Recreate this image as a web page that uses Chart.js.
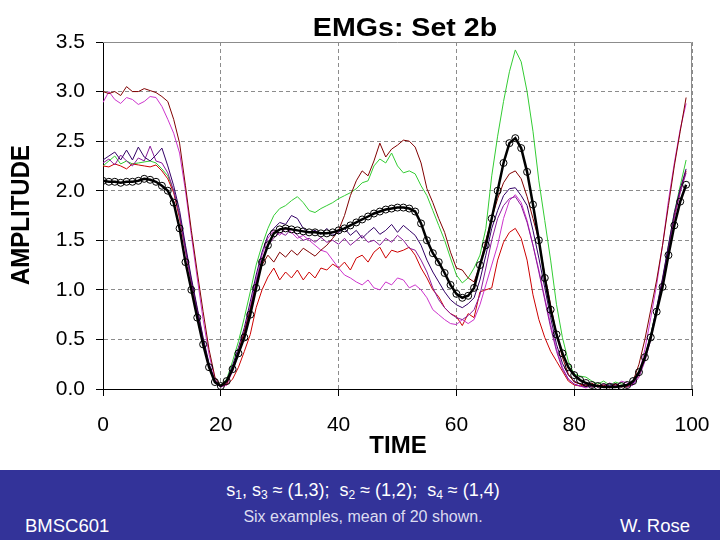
<!DOCTYPE html>
<html>
<head>
<meta charset="utf-8">
<script src="https://cdn.jsdelivr.net/npm/chart.js@4.4.0/dist/chart.umd.min.js"></script>
<style>
html,body{margin:0;padding:0;background:#fff;}
#wrap{position:relative;width:720px;height:540px;overflow:hidden;background:#fff;}
#c{position:absolute;left:0;top:0;}
#band{position:absolute;left:0;top:470px;width:720px;height:70px;background:#333399;color:#fff;font-family:Arial,"Liberation Sans",sans-serif;}
#band div{position:absolute;white-space:nowrap;}
#l1{left:0;width:726px;top:9px;text-align:center;font-size:18px;line-height:22px;}
#l1 sub{font-size:12px;vertical-align:-3px;}
#l2{left:0;width:726px;top:38px;text-align:center;font-size:16px;line-height:18px;color:#dcdcf0;}
#l3{left:25px;top:45px;font-size:18.5px;line-height:22px;}
#l4{right:30px;top:45px;font-size:18.5px;line-height:22px;}
</style>
</head>
<body>
<div id="wrap">
  <canvas id="c" width="720" height="470"></canvas>
  <div id="band">
    <div id="l1">s<sub>1</sub>, s<sub>3</sub> ≈ (1,3);&nbsp; s<sub>2</sub> ≈ (1,2);&nbsp; s<sub>4</sub> ≈ (1,4)</div>
    <div id="l2">Six examples, mean of 20 shown.</div>
    <div id="l3">BMSC601</div>
    <div id="l4">W. Rose</div>
  </div>
</div>
<script>
// time axis (0..99)
const times = [0,1,2,3,4,5,6,7,8,9,10,11,12,13,14,15,16,17,18,19,
  20,21,22,23,24,25,26,27,28,29,30,31,32,33,34,35,36,37,38,39,
  40,41,42,43,44,45,46,47,48,49,50,51,52,53,54,55,56,57,58,59,
  60,61,62,63,64,65,66,67,68,69,70,71,72,73,74,75,76,77,78,79,
  80,81,82,83,84,85,86,87,88,89,90,91,92,93,94,95,96,97,98,99];

// mean of 20
const meanEmg = [2.10,2.09,2.09,2.08,2.09,2.09,2.10,2.12,2.11,2.09,
  2.05,2.00,1.88,1.62,1.28,1.00,0.72,0.45,0.22,0.07,
  0.03,0.08,0.20,0.36,0.52,0.75,1.02,1.28,1.45,1.57,
  1.61,1.62,1.61,1.60,1.59,1.58,1.58,1.57,1.57,1.58,
  1.60,1.62,1.65,1.68,1.71,1.74,1.77,1.79,1.81,1.82,
  1.83,1.83,1.82,1.79,1.67,1.50,1.37,1.28,1.17,1.05,
  0.96,0.92,0.94,1.02,1.25,1.45,1.72,2.00,2.28,2.48,
  2.53,2.43,2.19,1.86,1.50,1.12,0.80,0.55,0.36,0.22,
  0.14,0.09,0.06,0.04,0.03,0.02,0.02,0.02,0.03,0.04,
  0.08,0.17,0.32,0.52,0.78,1.03,1.35,1.65,1.89,2.06];

// six examples
const green = [2.25,2.30,2.35,2.27,2.30,2.27,2.28,2.29,2.30,2.28,
  2.22,2.15,2.00,1.75,1.42,1.10,0.80,0.50,0.25,0.08,
  0.04,0.10,0.28,0.48,0.72,0.98,1.25,1.45,1.62,1.75,
  1.82,1.85,1.90,1.94,1.88,1.80,1.78,1.82,1.85,1.88,
  1.92,1.95,1.98,2.02,2.08,2.10,2.25,2.32,2.28,2.38,
  2.25,2.18,2.20,2.17,2.05,1.95,1.80,1.65,1.50,1.32,
  1.15,1.07,1.12,1.22,1.35,1.62,2.15,2.55,2.90,3.20,
  3.42,3.30,3.00,2.60,2.10,1.70,1.30,0.85,0.52,0.28,
  0.15,0.13,0.12,0.08,0.05,0.08,0.04,0.07,0.05,0.04,
  0.06,0.15,0.32,0.55,0.82,1.10,1.45,1.78,2.05,2.31];

const maroon = [3.00,2.98,3.00,2.96,3.05,3.00,3.00,3.03,3.01,2.99,
  2.95,2.90,2.72,2.48,2.05,1.60,1.18,0.78,0.40,0.12,
  0.03,0.05,0.20,0.38,0.58,0.80,1.05,1.25,1.35,1.28,
  1.38,1.33,1.40,1.35,1.42,1.38,1.34,1.40,1.45,1.52,
  1.60,1.75,1.95,2.10,2.20,2.15,2.30,2.48,2.34,2.42,
  2.46,2.51,2.50,2.44,2.28,2.02,1.88,1.72,1.58,1.38,
  1.22,1.20,1.12,1.08,1.25,1.50,1.72,1.92,2.08,2.17,
  2.20,2.12,1.94,1.72,1.50,1.15,0.85,0.55,0.32,0.15,
  0.07,0.05,0.03,0.06,0.02,0.04,0.01,0.05,0.02,0.03,
  0.08,0.25,0.50,0.80,1.10,1.45,1.85,2.25,2.60,2.94];

const magenta = [2.89,3.00,2.92,2.88,2.94,2.92,2.87,2.90,2.95,2.94,
  2.85,2.72,2.58,2.38,2.00,1.55,1.12,0.70,0.35,0.10,
  0.02,0.04,0.18,0.35,0.55,0.82,1.10,1.35,1.52,1.60,
  1.55,1.62,1.58,1.52,1.55,1.50,1.45,1.40,1.38,1.30,
  1.22,1.15,1.12,1.08,1.05,1.10,1.02,1.00,1.08,1.05,
  1.12,1.10,1.02,1.05,1.00,0.92,0.80,0.75,0.70,0.66,
  0.65,0.70,0.66,0.70,0.85,1.05,1.25,1.45,1.72,1.90,
  1.96,1.88,1.70,1.45,1.20,0.92,0.65,0.40,0.22,0.10,
  0.05,0.03,0.01,0.04,0.02,0.05,0.03,0.02,0.08,0.06,
  0.05,0.15,0.40,0.72,1.05,1.45,1.90,2.28,2.62,2.88];

const navy = [2.31,2.35,2.39,2.31,2.41,2.31,2.44,2.34,2.30,2.36,
  2.43,2.25,2.05,1.80,1.45,1.12,0.82,0.52,0.26,0.08,
  0.03,0.09,0.24,0.42,0.62,0.88,1.15,1.38,1.55,1.62,
  1.68,1.66,1.75,1.72,1.62,1.58,1.60,1.56,1.62,1.55,
  1.58,1.62,1.55,1.60,1.52,1.58,1.63,1.56,1.60,1.66,
  1.58,1.65,1.60,1.55,1.45,1.30,1.18,1.08,0.98,0.90,
  0.85,0.82,0.86,0.92,1.10,1.35,1.62,1.80,1.95,2.02,
  2.03,1.95,1.85,1.60,1.32,1.02,0.72,0.45,0.26,0.14,
  0.08,0.05,0.04,0.02,0.03,0.02,0.04,0.03,0.02,0.04,
  0.06,0.15,0.32,0.55,0.82,1.12,1.45,1.78,2.02,2.22];

const purple = [2.28,2.32,2.26,2.36,2.30,2.25,2.33,2.30,2.45,2.30,
  2.28,2.18,2.00,1.75,1.40,1.08,0.78,0.48,0.22,0.06,
  0.02,0.06,0.20,0.38,0.58,0.82,1.08,1.30,1.45,1.52,
  1.58,1.55,1.62,1.55,1.50,1.52,1.48,1.53,1.48,1.50,
  1.46,1.52,1.45,1.50,1.55,1.48,1.50,1.45,1.52,1.48,
  1.55,1.50,1.42,1.40,1.30,1.18,1.02,0.90,0.82,0.76,
  0.72,0.70,0.74,0.80,0.95,1.22,1.50,1.72,1.85,1.92,
  1.94,1.85,1.68,1.45,1.18,0.90,0.62,0.38,0.20,0.10,
  0.05,0.03,0.02,0.05,0.02,0.03,0.06,0.04,0.03,0.02,
  0.04,0.12,0.28,0.50,0.78,1.08,1.42,1.72,1.98,2.18];

const red = [2.25,2.24,2.27,2.25,2.22,2.27,2.26,2.25,2.24,2.26,
  2.20,2.12,1.98,1.72,1.40,1.08,0.80,0.50,0.22,0.07,
  0.03,0.04,0.10,0.22,0.38,0.55,0.82,1.00,1.13,1.22,
  1.10,1.18,1.12,1.20,1.10,1.18,1.12,1.22,1.20,1.26,
  1.22,1.28,1.20,1.32,1.35,1.28,1.38,1.43,1.32,1.40,
  1.38,1.40,1.43,1.35,1.22,1.12,1.00,0.93,0.82,0.76,
  0.73,0.64,0.76,0.72,0.98,1.00,1.02,1.30,1.48,1.58,
  1.62,1.52,1.30,0.95,0.70,0.52,0.38,0.28,0.18,0.08,
  0.04,0.03,0.05,0.02,0.04,0.03,0.02,0.05,0.03,0.02,
  0.06,0.14,0.30,0.52,0.80,1.10,1.42,1.75,2.00,2.20];

const yTicks = [0, 0.5, 1.0, 1.5, 2.0, 2.5, 3.0, 3.5];
const xTicks = [0, 20, 40, 60, 80, 100];

function pts(vals){ return vals.map((v,i)=>({x:times[i], y:v})); }
function thin(label, vals, color){
  return {label, data: pts(vals), borderColor: color, borderWidth: 1, pointRadius: 0, tension: 0, fill: false};
}

// titles and frame drawn by hand so the chart area stays where it is in the picture
const decor = {
  id: 'decor',
  beforeDatasetsDraw(chart){
    const {ctx, chartArea: a} = chart;
    ctx.save();
    ctx.strokeStyle = '#8c8c8c'; ctx.lineWidth = 1;
    ctx.beginPath();
    ctx.moveTo(a.left, a.top + 0.5); ctx.lineTo(a.right - 0.5, a.top + 0.5); ctx.lineTo(a.right - 0.5, a.bottom);
    ctx.stroke();
    ctx.restore();
  },
  afterDraw(chart){
    const ctx = chart.ctx;
    ctx.save();
    ctx.fillStyle = '#000';
    ctx.textAlign = 'center'; ctx.textBaseline = 'alphabetic';
    ctx.font = 'bold 26px Arial, "Liberation Sans", sans-serif';
    ctx.save(); ctx.translate(405, 36); ctx.scale(1.1, 1); ctx.fillText('EMGs: Set 2b', 0, 0); ctx.restore();
    ctx.font = 'bold 24px Arial, "Liberation Sans", sans-serif';
    ctx.fillText('TIME', 398, 453);
    ctx.save(); ctx.translate(22, 215); ctx.scale(1.1, 1); ctx.rotate(-Math.PI/2);
    ctx.textBaseline = 'middle'; ctx.fillText('AMPLITUDE', 0, 0); ctx.restore();
    ctx.restore();
  }
};

new Chart(document.getElementById('c'), {
  type: 'line',
  data: {
    datasets: [
      {label:'mean', data: pts(meanEmg), borderColor:'#000', borderWidth: 2.5, tension: 0,
       pointRadius: 3.5, pointBorderWidth: 1, pointBorderColor:'#000', pointBackgroundColor:'rgba(0,0,0,0)', fill:false},
      thin('maroon', maroon, '#800000'),
      thin('navy', navy, '#330066'),
      thin('purple', purple, '#8a1a9a'),
      thin('magenta', magenta, '#cc33cc'),
      thin('red', red, '#cc0000'),
      thin('green', green, '#33cc33')
    ]
  },
  options: {
    responsive: false,
    animation: false,
    layout: {padding: {left: 0, top: 42, right: 28, bottom: 0}},
    plugins: {legend: {display: false}, tooltip: {enabled: false}, title: {display: false}},
    scales: {
      x: {
        type: 'linear', min: 0, max: 100,
        afterFit(s){ s.height = 81; s.paddingLeft = 0; s.paddingRight = 0; },
        afterBuildTicks(s){ s.ticks = xTicks.map(v=>({value:v})); },
        grid: {color:'#8c8c8c', lineWidth: 1, drawTicks: true, tickLength: 7, tickColor:'#000', tickBorderDash: []},
        border: {display: true, color:'#000', width: 1, dash: [4, 3]},
        ticks: {color:'#000', padding: 17, maxRotation: 0, font: {family:'Arial, "Liberation Sans", sans-serif', size: 21}}
      },
      y: {
        min: 0, max: 3.5,
        afterFit(s){ s.width = 103; s.paddingTop = 0; s.paddingBottom = 0; },
        afterBuildTicks(s){ s.ticks = yTicks.map(v=>({value:v})); },
        grid: {color:'#8c8c8c', lineWidth: 1, drawTicks: true, tickLength: 7, tickColor:'#000', tickBorderDash: []},
        border: {display: true, color:'#000', width: 1, dash: [4, 3]},
        ticks: {color:'#000', padding: 11, callback: v => v.toFixed(1), font: {family:'Arial, "Liberation Sans", sans-serif', size: 21}}
      }
    }
  },
  plugins: [decor]
});
</script>
</body>
</html>
